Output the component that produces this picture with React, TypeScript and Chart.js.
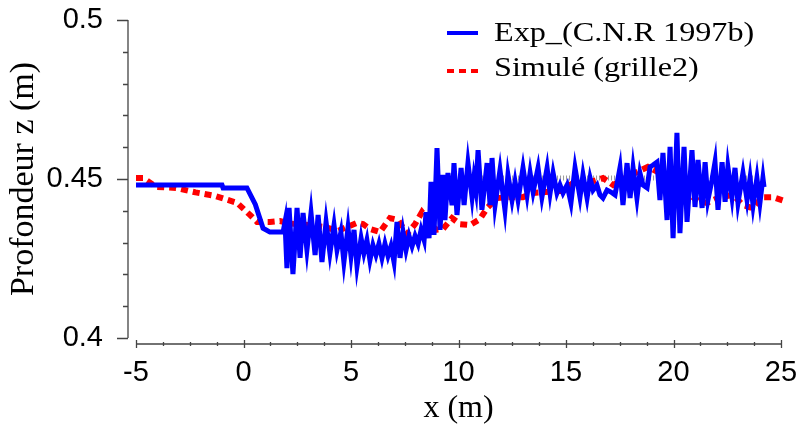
import React, { useEffect, useRef } from "react";
import { Chart, registerables } from "chart.js";

Chart.register(...registerables);

// ---- data (x in m, z in m) ----
const expX = [-5, -4, -3, -2, -1, -0.95, 0.16, 0.55, 0.91, 1.23, 1.84, 1.93, 2.02, 2.12, 2.3, 2.49, 2.63, 2.77, 2.95, 3.14, 3.33, 3.47, 3.65, 3.84, 4.02, 4.21, 4.35, 4.53, 4.67, 4.86, 5.0, 5.14, 5.28, 5.47, 5.6, 5.74, 5.88, 6.02, 6.16, 6.3, 6.44, 6.58, 6.72, 6.86, 7.0, 7.14, 7.28, 7.42, 7.56, 7.7, 7.84, 7.98, 8.12, 8.26, 8.4, 8.49, 8.63, 8.72, 8.86, 9.0, 9.14, 9.28, 9.37, 9.51, 9.7, 9.79, 9.93, 10.12, 10.26, 10.44, 10.63, 10.72, 10.81, 10.91, 11.09, 11.33, 11.47, 11.56, 11.7, 11.93, 12.16, 12.3, 12.49, 12.63, 12.77, 13.0, 13.19, 13.33, 13.47, 13.7, 13.88, 14.12, 14.26, 14.4, 14.58, 14.72, 14.86, 15.05, 15.23, 15.42, 15.65, 15.79, 15.98, 16.12, 16.26, 16.44, 16.58, 16.72, 16.91, 17.09, 17.28, 17.51, 17.65, 17.84, 17.98, 18.12, 18.3, 18.44, 18.58, 18.77, 18.91, 19.05, 19.23, 19.37, 19.51, 19.7, 19.84, 19.98, 20.16, 20.3, 20.49, 20.63, 20.86, 21.0, 21.14, 21.33, 21.47, 21.6, 21.79, 21.93, 22.07, 22.26, 22.4, 22.53, 22.72, 22.86, 23.0, 23.23, 23.42, 23.56, 23.7, 23.88, 24.02, 24.16, 24.21];
const expZ = [0.4481, 0.4481, 0.4481, 0.4481, 0.4481, 0.4472, 0.4472, 0.442, 0.4345, 0.4333, 0.4333, 0.4365, 0.422, 0.4409, 0.4201, 0.4409, 0.4252, 0.4393, 0.4277, 0.4393, 0.4261, 0.4387, 0.4239, 0.4365, 0.4267, 0.4355, 0.4277, 0.4333, 0.4239, 0.4346, 0.4258, 0.434, 0.4226, 0.4314, 0.4267, 0.4308, 0.4245, 0.4292, 0.4261, 0.4296, 0.4252, 0.4296, 0.4258, 0.4289, 0.4239, 0.4365, 0.4252, 0.4333, 0.4277, 0.4321, 0.4289, 0.4321, 0.4296, 0.434, 0.4308, 0.4396, 0.4314, 0.4491, 0.4324, 0.4597, 0.434, 0.4513, 0.4371, 0.4519, 0.4418, 0.455, 0.4387, 0.4535, 0.4418, 0.455, 0.4443, 0.4503, 0.4465, 0.4591, 0.4403, 0.455, 0.4418, 0.4566, 0.4418, 0.4528, 0.4403, 0.4513, 0.4434, 0.4491, 0.4434, 0.4535, 0.445, 0.4519, 0.4459, 0.4535, 0.4443, 0.4535, 0.4456, 0.4519, 0.4456, 0.4481, 0.4456, 0.4481, 0.4425, 0.4535, 0.4443, 0.4513, 0.444, 0.4503, 0.4465, 0.4481, 0.445, 0.444, 0.4465, 0.4459, 0.445, 0.4535, 0.4418, 0.455, 0.444, 0.4535, 0.444, 0.4519, 0.4481, 0.4472, 0.4538, 0.4544, 0.4553, 0.4434, 0.4582, 0.4371, 0.4601, 0.4314, 0.4645, 0.433, 0.4601, 0.4365, 0.4591, 0.4412, 0.456, 0.4409, 0.4553, 0.4434, 0.4497, 0.4553, 0.4403, 0.4553, 0.4428, 0.4538, 0.4443, 0.4535, 0.4425, 0.4519, 0.4434, 0.4503, 0.4418, 0.4503, 0.4425, 0.4503, 0.4475];

const simX = [-5, -4.67, -4.07, -3.14, -2.23, -1.33, -0.86, -0.3, 0.3, 0.63, 1.23, 1.7, 2.16, 3.09, 3.79, 4.4, 4.81, 5.28, 5.56, 5.88, 6.35, 6.81, 7.19, 7.6, 7.98, 8.3, 8.58, 8.95, 9.28, 9.7, 10.07, 10.53, 11.0, 11.33, 11.79, 12.4, 13.0, 13.47, 14.02, 14.72, 15.33, 15.98, 16.72, 17.19, 17.6, 18.3, 18.81, 19.28, 19.98, 20.63, 21.23, 21.56, 22.16, 22.77, 23.23, 23.65, 24.16, 24.63, 25.28, 25.47];
const simZ = [0.4503, 0.4503, 0.4475, 0.4472, 0.4458, 0.4447, 0.4437, 0.4425, 0.4387, 0.4365, 0.4365, 0.4368, 0.436, 0.4355, 0.4349, 0.4337, 0.4349, 0.4362, 0.4358, 0.4343, 0.4333, 0.4377, 0.4371, 0.4327, 0.4358, 0.4396, 0.4371, 0.434, 0.4343, 0.4377, 0.4358, 0.4355, 0.4374, 0.4409, 0.444, 0.4443, 0.4443, 0.4456, 0.4459, 0.4462, 0.4487, 0.4487, 0.4503, 0.4481, 0.4497, 0.4522, 0.4538, 0.4522, 0.4481, 0.4456, 0.4428, 0.4425, 0.4443, 0.445, 0.4418, 0.4409, 0.4443, 0.4443, 0.4428, 0.4425];

const refX = [9.28, 24.21];
const refZ = [0.4503, 0.4503];

const xTicks = [-5, 0, 5, 10, 15, 20, 25];
const yTicks = [0.4, 0.45, 0.5];
const xMinorStep = 1.25;
const yMinorStep = 0.01;

const seriesLabels = ["Exp_(C.N.R 1997b)", "Simulé (grille2)"];

const toPts = (xs: number[], ys: number[]) => xs.map((x, i) => ({ x, y: ys[i] }));

const AXIS_COLOR = "#444";

const offsetAxes = {
  id: "offsetAxes",
  afterDraw(chart: any) {
    const { ctx, chartArea, scales } = chart;
    const xs = scales.x;
    const ys = scales.y;
    const yLineX = chartArea.left - 8;
    const xLineY = chartArea.bottom + 6;
    ctx.save();
    ctx.strokeStyle = AXIS_COLOR;
    ctx.lineWidth = 1.3;
    // y axis
    ctx.beginPath();
    ctx.moveTo(yLineX, ys.getPixelForValue(ys.max));
    ctx.lineTo(yLineX, ys.getPixelForValue(ys.min));
    const nY = Math.round((ys.max - ys.min) / yMinorStep);
    for (let i = 0; i <= nY; i++) {
      const v = ys.min + i * yMinorStep;
      const p = Math.round(ys.getPixelForValue(v)) + 0.5;
      const major = yTicks.some((t) => Math.abs(t - v) < 1e-6);
      ctx.moveTo(yLineX, p);
      ctx.lineTo(yLineX - (major ? 11 : 5), p);
    }
    ctx.stroke();
    // x axis
    ctx.beginPath();
    ctx.moveTo(xs.getPixelForValue(xs.min), xLineY);
    ctx.lineTo(xs.getPixelForValue(xs.max), xLineY);
    const nX = Math.round((xs.max - xs.min) / xMinorStep);
    for (let i = 0; i <= nX; i++) {
      const v = xs.min + i * xMinorStep;
      const p = Math.round(xs.getPixelForValue(v)) + 0.5;
      const major = xTicks.some((t) => Math.abs(t - v) < 1e-6);
      ctx.moveTo(p, xLineY - (major ? 4 : 2));
      ctx.lineTo(p, xLineY + (major ? 4 : 2));
    }
    ctx.stroke();
    ctx.restore();
  },
};

const zeroPad = (s: any) => {
  s.paddingTop = 0;
  s.paddingBottom = 0;
  s.paddingLeft = 0;
  s.paddingRight = 0;
};

export default function App() {
  const ref = useRef<HTMLCanvasElement | null>(null);

  useEffect(() => {
    document.body.style.margin = "0";
    const canvas = ref.current;
    if (!canvas) return;
    const chart = new Chart(canvas, {
      type: "line",
      data: {
        datasets: [
          {
            label: seriesLabels[0],
            data: toPts(expX, expZ),
            borderColor: "#0000ff",
            borderWidth: 5,
            pointRadius: 0,
            tension: 0,
            clip: false as any,
          },
          {
            label: seriesLabels[1],
            data: toPts(simX, simZ),
            borderColor: "#ff0000",
            borderWidth: 6,
            borderDash: [7, 5],
            borderCapStyle: "butt",
            pointRadius: 0,
            tension: 0,
            clip: false as any,
          },
          {
            label: "ref",
            data: toPts(refX, refZ),
            borderColor: "rgba(130,130,130,0.8)",
            borderWidth: 5,
            borderDash: [1, 2],
            pointRadius: 0,
            tension: 0,
          },
        ],
      },
      options: {
        responsive: false,
        animation: false,
        devicePixelRatio: 1,
        layout: { padding: { top: 20, right: 16, left: 0, bottom: 0 } },
        plugins: { legend: { display: false }, tooltip: { enabled: false } },
        scales: {
          x: {
            type: "linear",
            min: -5,
            max: 25,
            afterBuildTicks: (s: any) => {
              s.ticks = xTicks.map((v) => ({ value: v }));
            },
            afterFit: (s: any) => {
              s.height = 87;
              zeroPad(s);
            },
            grid: { display: false, drawTicks: false },
            border: { display: false },
            ticks: {
              padding: 18,
              color: "#000",
              font: { family: "'Liberation Sans', Arial, sans-serif", size: 29 },
              maxRotation: 0,
              autoSkip: false,
            },
            title: {
              display: true,
              text: "x (m)",
              color: "#000",
              font: { family: "'Liberation Serif', 'Times New Roman', serif", size: 32, lineHeight: 1 },
              padding: { top: 0, bottom: 0 },
            },
          },
          y: {
            type: "linear",
            min: 0.4,
            max: 0.5,
            afterBuildTicks: (s: any) => {
              s.ticks = yTicks.map((v) => ({ value: v }));
            },
            afterFit: (s: any) => {
              s.width = 136;
              zeroPad(s);
            },
            grid: { display: false, drawTicks: false },
            border: { display: false },
            ticks: {
              padding: 33,
              color: "#000",
              font: { family: "'Liberation Sans', Arial, sans-serif", size: 29 },
              callback: (v: any) => String(Number(Number(v).toFixed(2))),
            },
            title: {
              display: true,
              text: "Profondeur z (m)",
              color: "#000",
              font: { family: "'Liberation Serif', 'Times New Roman', serif", size: 34, lineHeight: 1 },
              padding: { top: 7, bottom: 0 },
            },
          },
        },
      },
      plugins: [offsetAxes],
    });
    return () => chart.destroy();
  }, []);

  const textStyle: React.CSSProperties = {
    position: "absolute",
    left: 494,
    fontFamily: "'Liberation Serif', 'Times New Roman', serif",
    fontSize: 28,
    lineHeight: "28px",
    color: "#000",
    whiteSpace: "nowrap",
    transform: "scaleX(1.15)",
    transformOrigin: "left center",
  };

  return (
    <div style={{ position: "absolute", left: 0, top: 0, width: 797, height: 425, background: "#fff" }}>
      <canvas ref={ref} width={797} height={425} style={{ display: "block", width: 797, height: 425 }} />
      <div style={{ position: "absolute", left: 447, top: 31, width: 31, height: 4, background: "#0000ff" }} />
      <div
        style={{
          position: "absolute",
          left: 447,
          top: 69,
          width: 31,
          height: 4,
          background: "repeating-linear-gradient(to right, #ff0000 0px, #ff0000 7px, transparent 7px, transparent 12px)",
        }}
      />
      <span style={{ ...textStyle, top: 18 }}>{seriesLabels[0]}</span>
      <span style={{ ...textStyle, top: 53 }}>{seriesLabels[1]}</span>
    </div>
  );
}
